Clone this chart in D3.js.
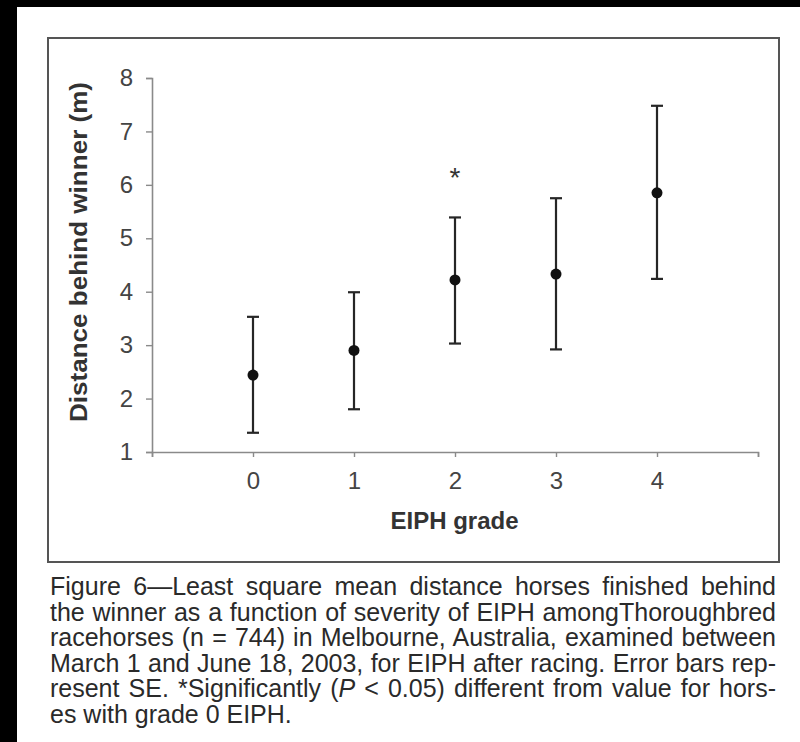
<!DOCTYPE html>
<html>
<head>
<meta charset="utf-8">
<script src="https://cdn.jsdelivr.net/npm/d3@7"></script>
<style>
  html, body { margin: 0; padding: 0; background: #fff; }
  svg { display: block; }
</style>
</head>
<body>
<svg id="chart" width="800" height="742"></svg>
<script>
// ---- data ----
const grades = [0, 1, 2, 3, 4];
const means  = [2.44, 2.90, 4.22, 4.33, 5.85];
const upper  = [3.53, 3.99, 5.39, 5.75, 7.48];
const lower  = [1.36, 1.80, 3.03, 2.92, 4.24];
const marks  = ["", "", "*", "", ""];
const yTicks = [1, 2, 3, 4, 5, 6, 7, 8];
const xTicks = [-1, 0, 1, 2, 3, 4, 5];
const xLabel = "EIPH grade";
const yLabel = "Distance behind winner (m)";
const caption = [
  [{t: "Figure 6\u2014Least square mean distance horses finished behind"}],
  [{t: "the winner as a function of severity of EIPH amongThoroughbred"}],
  [{t: "racehorses (n = 744) in Melbourne, Australia, examined between"}],
  [{t: "March 1 and June 18, 2003, for EIPH after racing. Error bars rep-"}],
  [{t: "resent SE. *Significantly ("}, {t: "P", i: true}, {t: " < 0.05) different from value for hors-"}],
  [{t: "es with grade 0 EIPH."}]
];

const svg = d3.select("#chart");

// page background pieces (scan borders)
svg.append("rect").attr("x", 0).attr("y", 0).attr("width", 800).attr("height", 7).attr("fill", "#000");
svg.append("rect").attr("x", 0).attr("y", 0).attr("width", 17).attr("height", 742).attr("fill", "#000");

// figure frame
svg.append("rect").attr("x", 48).attr("y", 38).attr("width", 731).attr("height", 524)
  .attr("fill", "none").attr("stroke", "#555").attr("stroke-width", 2);

const x = d3.scaleLinear().domain([-1, 5]).range([152, 758]);
const y = d3.scaleLinear().domain([1, 8]).range([452, 78]);

const font = "'Liberation Sans', Arial, Helvetica, sans-serif";

// y axis
const gy = svg.append("g").attr("transform", `translate(${x(-1)},0)`)
  .call(d3.axisLeft(y).tickValues(yTicks).tickSize(6).tickPadding(13).tickFormat(d3.format("d")));
gy.select(".domain").attr("stroke", "#8a8a8a").attr("stroke-width", 1.6);
gy.selectAll(".tick line").attr("stroke", "#8a8a8a").attr("stroke-width", 1.4);
gy.selectAll(".tick text").attr("font-family", font).attr("font-size", 24).attr("fill", "#444");

// x axis
const gx = svg.append("g").attr("transform", `translate(0,${y(1)})`)
  .call(d3.axisBottom(x).tickValues(xTicks).tickSize(5).tickPadding(15)
    .tickFormat(d => grades.includes(d) ? String(d) : ""));
gx.select(".domain").attr("stroke", "#8a8a8a").attr("stroke-width", 1.6);
gx.selectAll(".tick line").attr("stroke", "#8a8a8a").attr("stroke-width", 1.4);
gx.selectAll(".tick text").attr("font-family", font).attr("font-size", 24).attr("fill", "#444");

// axis titles
svg.append("text").attr("x", (x(-1) + x(5)) / 2 - 0.5).attr("y", 529)
  .attr("text-anchor", "middle").attr("font-family", font).attr("font-weight", "bold")
  .attr("font-size", 24).attr("fill", "#333").text(xLabel);
svg.append("text").attr("transform", "translate(87,252) rotate(-90)")
  .attr("text-anchor", "middle").attr("font-family", font).attr("font-weight", "bold")
  .attr("font-size", 24).attr("fill", "#333").attr("textLength", 340).attr("lengthAdjust", "spacingAndGlyphs")
  .text(yLabel);

// error bars
const data = grades.map((g, i) => ({g, m: means[i], hi: upper[i], lo: lower[i], mark: marks[i]}));
const bars = svg.append("g").attr("stroke", "#262626").attr("stroke-width", 2.2);
bars.selectAll("line.v").data(data).join("line").attr("class", "v")
  .attr("x1", d => x(d.g)).attr("x2", d => x(d.g)).attr("y1", d => y(d.hi)).attr("y2", d => y(d.lo));
bars.selectAll("line.hi").data(data).join("line").attr("class", "hi")
  .attr("x1", d => x(d.g) - 6).attr("x2", d => x(d.g) + 6).attr("y1", d => y(d.hi)).attr("y2", d => y(d.hi));
bars.selectAll("line.lo").data(data).join("line").attr("class", "lo")
  .attr("x1", d => x(d.g) - 6).attr("x2", d => x(d.g) + 6).attr("y1", d => y(d.lo)).attr("y2", d => y(d.lo));

svg.append("g").selectAll("circle").data(data).join("circle")
  .attr("cx", d => x(d.g)).attr("cy", d => y(d.m)).attr("r", 5.5).attr("fill", "#111");

svg.append("g").selectAll("text").data(data.filter(d => d.mark)).join("text")
  .attr("x", d => x(d.g)).attr("y", d => y(d.hi) - 30)
  .attr("text-anchor", "middle").attr("font-family", font).attr("font-size", 28).attr("fill", "#333")
  .text(d => d.mark);

// caption: justified by widening word spaces
const target = 726;
caption.forEach((parts, i) => {
  const t = svg.append("text").attr("x", 50).attr("y", 595 + i * 25.6)
    .attr("font-family", font).attr("font-size", 25).attr("fill", "#2a2a2a");
  parts.forEach(p => {
    const s = t.append("tspan").text(p.t);
    if (p.i) s.attr("font-style", "italic");
  });
  if (i < caption.length - 1) {
    const natural = t.node().getComputedTextLength();
    const spaces = parts.map(p => p.t).join("").split(" ").length - 1;
    const extra = (target - natural) / spaces;
    t.attr("word-spacing", extra.toFixed(2));
    t.attr("textLength", target).attr("lengthAdjust", "spacing");
  }
});
</script>
</body>
</html>
